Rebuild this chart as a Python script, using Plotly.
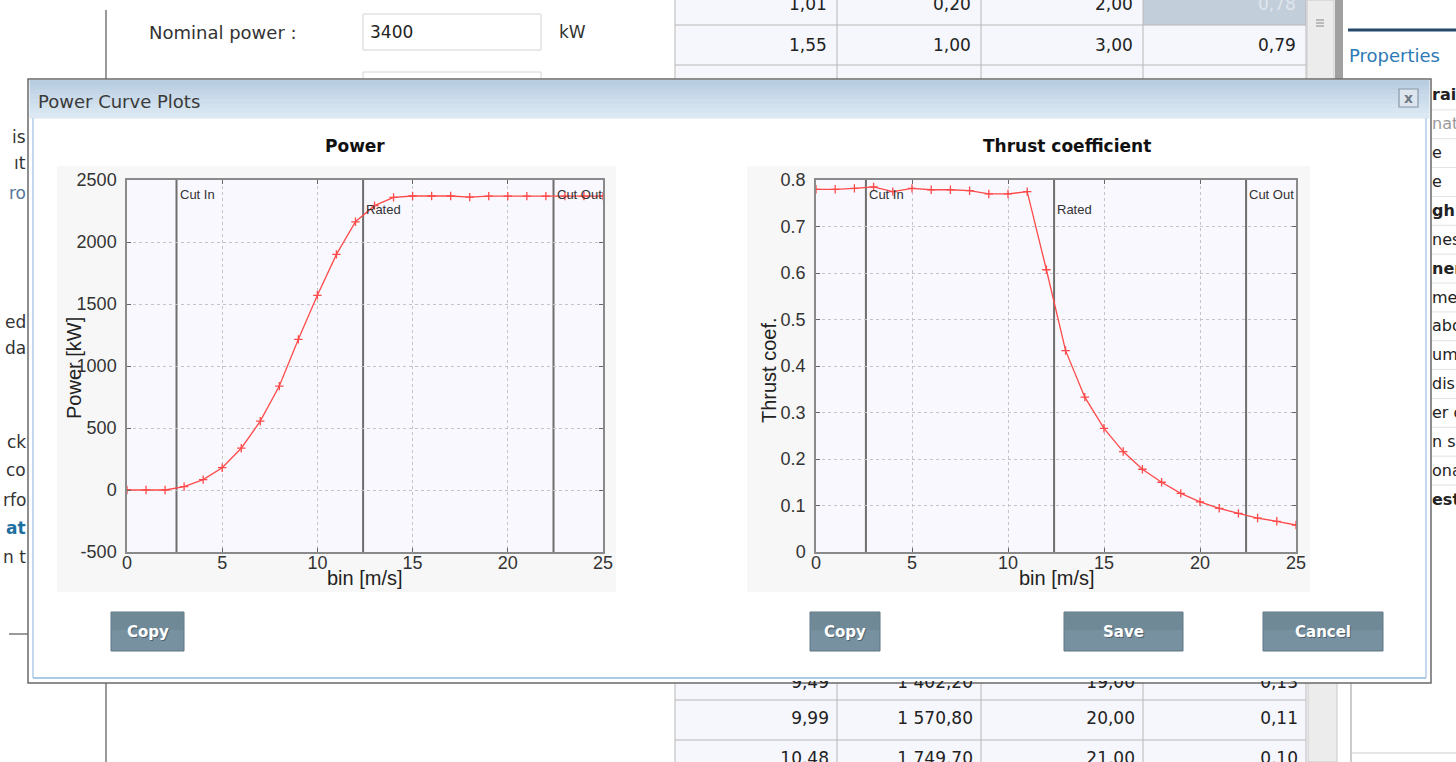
import plotly.graph_objects as go

W, H = 1456, 762

# ---------------- chart data ----------------
wind_speed = list(range(26))
power_kw = [0, 0, 0, 27, 84, 180, 337, 555, 838, 1215, 1570, 1900, 2163, 2293,
            2360, 2371, 2371, 2371, 2362, 2370, 2370, 2370, 2370, 2370, 2370, 2370]
thrust_coef = [0.780, 0.780, 0.782, 0.785, 0.775, 0.782, 0.779, 0.779, 0.777,
               0.770, 0.770, 0.775, 0.607, 0.433, 0.333, 0.266, 0.216, 0.178,
               0.150, 0.126, 0.108, 0.094, 0.083, 0.073, 0.066, 0.058]
limit_names = ["Cut In", "Rated", "Cut Out"]
limit_speeds = [2.6, 12.4, 22.4]

speed_ticks = [0, 5, 10, 15, 20, 25]
power_ticks = [-500, 0, 500, 1000, 1500, 2000, 2500]
power_tick_labels = ["-500", "0", "500", "1000", "1500", "2000", "2500"]
thrust_ticks = [0, 0.1, 0.2, 0.3, 0.4, 0.5, 0.6, 0.7, 0.8]
thrust_tick_labels = ["0", "0.1", "0.2", "0.3", "0.4", "0.5", "0.6", "0.7", "0.8"]

# ---------------- background UI texts ----------------
table_top_row = ["1,01", "0,20", "2,00", "0,78"]
table_second_row = ["1,55", "1,00", "3,00", "0,79"]
table_bottom_rows = [["9,49", "1 402,20", "19,00", "0,13"],
                     ["9,99", "1 570,80", "20,00", "0,11"],
                     ["10,48", "1 749,70", "21,00", "0,10"]]
left_fragments = ["is", "ıt", "ro", "ed", "da", "ck", "co", "rfo", "at", "n t"]
right_fragments = ["rai", "nat", "e", "e", "gh", "nes", "ner", "me", "abo",
                   "um", "dis", "er o", "n sm", "ona", "est"]
button_labels = ["Copy", "Copy", "Save", "Cancel"]


def px(x):
    return x / W


def py(y):
    return 1 - y / H


UI_FONT = "DejaVu Sans"
CH_FONT = "Liberation Sans"
RED = "#ff4a4a"

shapes = []
annotations = []


def rect(x0, y0, x1, y1, fill=None, line=None, lw=1):
    shapes.append(dict(type="rect", xref="paper", yref="paper",
                       x0=px(x0), x1=px(x1), y0=py(y1), y1=py(y0),
                       fillcolor=fill if fill else "rgba(0,0,0,0)",
                       line=dict(color=line if line else "rgba(0,0,0,0)",
                                 width=lw if line else 0),
                       layer="below"))


def hline(x0, x1, y, color, lw=1):
    shapes.append(dict(type="line", xref="paper", yref="paper",
                       x0=px(x0), x1=px(x1), y0=py(y), y1=py(y),
                       line=dict(color=color, width=lw), layer="below"))


def vline(x, y0, y1, color, lw=1):
    shapes.append(dict(type="line", xref="paper", yref="paper",
                       x0=px(x), x1=px(x), y0=py(y0), y1=py(y1),
                       line=dict(color=color, width=lw), layer="below"))


def text(x, y, s, size=17, color="#333333", xanchor="left", family=UI_FONT,
         bold=False, angle=0):
    annotations.append(dict(xref="paper", yref="paper", x=px(x), y=py(y),
                            text=f"<b>{s}</b>" if bold else s, showarrow=False,
                            xanchor=xanchor, yanchor="middle", textangle=angle,
                            font=dict(family=family, size=size, color=color)))


# ---------------- background application ----------------
vline(106, 10, 762, "#9a9a9a", 2)
text(147, 32, "Nominal power :", 18, "#333")
rect(363, 14, 541, 50, "#ffffff", "#d4d4d4")
text(368, 32, "3400", 17, "#222")
text(557, 32, "kW", 17, "#333")
rect(363, 72, 541, 100, "#ffffff", "#d4d4d4")

# top table
rect(675, 0, 1306, 80, "#f6f7fc")
rect(1143, 0, 1306, 25, "#c3cedb")
for xv in [675, 837, 981, 1143, 1306]:
    vline(xv, 0, 80, "#b8b8b8")
for yv in [25, 65]:
    hline(675, 1306, yv, "#b8b8b8")
col_right = [829, 973, 1135, 1298]
for i, v in enumerate(table_top_row):
    text(col_right[i], 4, v, 17, "#dfe5ec" if i == 3 else "#222", xanchor="right")
for i, v in enumerate(table_second_row):
    text(col_right[i], 45, v, 17, "#222", xanchor="right")
rect(1307, 0, 1334, 80, "#ececec", "#c8c8c8")
for k in range(3):
    hline(1316, 1324, 20 + 3 * k, "#888")
rect(1335, 0, 1343, 80, "#a0a0a0")
hline(1348, 1456, 30, "#24496b", 3)
text(1347, 55, "Properties", 18, "#2d7ab6")

# bottom table
rect(675, 680, 1306, 762, "#f6f7fc")
for xv in [675, 837, 981, 1143, 1306]:
    vline(xv, 680, 762, "#b8b8b8")
for yv in [700, 740]:
    hline(675, 1306, yv, "#b8b8b8")
rect(1308, 680, 1337, 762, "#ececec", "#c8c8c8")
vline(1351, 680, 762, "#9a9a9a")
hline(1351, 1456, 753, "#cccccc")
hline(9, 30, 634, "#9a9a9a", 2)

# left fragments
left_y = [137, 163, 193, 322, 348, 442, 470, 500, 528, 557]
for s, yv in zip(left_fragments, left_y):
    col = "#1f6fa0" if s == "at" else ("#54779a" if s == "ro" else "#333")
    text(28, yv, s, 17, col, xanchor="right", bold=(s == "at"))

# right fragments
for i, s in enumerate(right_fragments):
    yv = 95 + i * 28.86
    col = "#9a9a9a" if s == "nat" else "#222"
    text(1430, yv, s, 16, col, bold=s in ("rai", "gh", "ner", "est"))
    if i > 0:
        hline(1431, 1456, yv - 14, "#e2e2e2")

# ---------------- dialog ----------------
rect(28, 79, 1431, 683, "#ffffff", "#6a6a6a", 1.5)
bar_cols = ["#b9cde0", "#bed1e3", "#c3d5e6", "#c8d9e9", "#cdddeb", "#d2e1ee",
            "#d7e5f1", "#dbe8f3"]
step = (118 - 80) / len(bar_cols)
for k, c in enumerate(bar_cols):
    rect(29.5, 80 + k * step, 1429.5, 80 + (k + 1) * step + 0.6, c)
vline(33, 118, 678, "#c4d9ee", 2)
vline(1426, 118, 678, "#c4d9ee", 2)
hline(33, 1426, 678, "#a8cbe8", 2)
text(36, 101, "Power Curve Plots", 18, "#3a3a3a")
rect(1399, 89, 1418, 107, "#dde5ee", "#8797a8", 1.2)
text(1408.5, 98, "x", 14, "#707a86", xanchor="center", bold=True)

# chart image backgrounds
rect(57, 166, 616, 592, "#f7f7f7")
rect(747, 166, 1310, 592, "#f7f7f7")

# buttons
button_boxes = [(111, 184), (810, 880), (1064, 1183), (1263, 1383)]
for (x0, x1), lab in zip(button_boxes, button_labels):
    rect(x0, 612, x1, 651, "#7891a0", "#5f7683", 1)
    rect(x0 + 1, 613, x1 - 1, 630, "#6f8996")
    text((x0 + x1) / 2 + 1, 632.5, lab, 15, "rgba(40,50,60,0.5)", xanchor="center", bold=True)
    text((x0 + x1) / 2, 631.5, lab, 15, "#ffffff", xanchor="center", bold=True)

# plot-area backgrounds (drawn as shapes so they sit above the dialog body)
for ax, yax in [("x", "y"), ("x2", "y2")]:
    shapes.append(dict(type="rect", xref=f"{ax} domain", yref=f"{yax} domain",
                       x0=0, x1=1, y0=0, y1=1, fillcolor="#f8f8fe",
                       line=dict(width=0), layer="below"))

# vertical limit lines + labels
label_dy = {"Cut In": 0.96, "Rated": 0.92, "Cut Out": 0.96}
for ax, yax in [("x", "y"), ("x2", "y2")]:
    for name, sp in zip(limit_names, limit_speeds):
        shapes.append(dict(type="line", xref=ax, yref=f"{yax} domain",
                           x0=sp, x1=sp, y0=0, y1=1,
                           line=dict(color="#6e6e6e", width=2), layer="below"))
        annotations.append(dict(xref=ax, yref=f"{yax} domain", x=sp,
                                y=label_dy[name], text=name, showarrow=False,
                                xanchor="left", yanchor="middle", xshift=1,
                                font=dict(family=CH_FONT, size=13, color="#333")))

# ---------------- charts ----------------
fig = go.Figure()

line_kw = dict(mode="lines+markers", line=dict(color=RED, width=1.3),
               marker=dict(symbol="cross-thin", size=6,
                           line=dict(width=1.3, color=RED)),
               showlegend=False, hoverinfo="x+y")
fig.add_trace(go.Scatter(x=wind_speed, y=power_kw, xaxis="x", yaxis="y", **line_kw))
fig.add_trace(go.Scatter(x=wind_speed, y=thrust_coef, xaxis="x2", yaxis="y2", **line_kw))

# partially hidden table rows below the dialog (clipped by an invisible strip subplot)
bx, by, bt = [], [], []
for r, row in enumerate(table_bottom_rows):
    for i, v in enumerate(row):
        bx.append(col_right[i])
        by.append([684, 720, 760][r])
        bt.append(v)
fig.add_trace(go.Scatter(x=bx, y=by, text=bt, mode="text", textposition="middle left",
                         textfont=dict(family=UI_FONT, size=17, color="#222"),
                         xaxis="x3", yaxis="y3", cliponaxis=True, showlegend=False,
                         hoverinfo="skip"))

common_x = dict(range=[0, 25], tickvals=speed_ticks, showgrid=True,
                gridcolor="#c4c4c4", griddash="dot", gridwidth=1,
                showline=True, mirror="ticks", linecolor="#8a8a8a", linewidth=1.5,
                ticks="inside", ticklen=4, tickcolor="#666", zeroline=False,
                tickfont=dict(family=CH_FONT, size=18, color="#333"),
                ticklabelstandoff=-6)
common_y = dict(showgrid=True, gridcolor="#c4c4c4", griddash="dot", gridwidth=1,
                showline=True, mirror="ticks", linecolor="#8a8a8a", linewidth=1.5,
                ticks="inside", ticklen=4, tickcolor="#666", zeroline=False,
                tickfont=dict(family=CH_FONT, size=18, color="#333"),
                ticklabelstandoff=5)

fig.update_layout(
    xaxis=dict(domain=[px(127), px(603)], anchor="y", **common_x),
    yaxis=dict(domain=[py(552), py(180)], anchor="x", range=[-500, 2500],
               tickvals=power_ticks, ticktext=power_tick_labels, **common_y),
    xaxis2=dict(domain=[px(816), px(1296)], anchor="y2", **common_x),
    yaxis2=dict(domain=[py(552), py(180)], anchor="x2", range=[0, 0.8],
                tickvals=thrust_ticks, ticktext=thrust_tick_labels, **common_y),
    xaxis3=dict(domain=[0, 1], range=[0, W], visible=False, anchor="y3",
                fixedrange=True),
    yaxis3=dict(domain=[0, py(681)], range=[H, 681], visible=False, anchor="x3",
                fixedrange=True),
)

# titles and axis titles
text(355, 146, "Power", 17, "#111", xanchor="center", bold=True)
text(1067, 146, "Thrust coefficient", 17, "#111", xanchor="center", bold=True)
text(365, 578, "bin [m/s]", 20, "#222", xanchor="center", family=CH_FONT)
text(1057, 578, "bin [m/s]", 20, "#222", xanchor="center", family=CH_FONT)
text(74, 368, "Power [kW]", 20, "#222", xanchor="center", family=CH_FONT, angle=-90)
text(769, 370, "Thrust coef.", 20, "#222", xanchor="center", family=CH_FONT, angle=-90)

fig.update_layout(
    width=W, height=H,
    margin=dict(l=0, r=0, t=0, b=0, pad=0, autoexpand=False), autosize=False,
    paper_bgcolor="#ffffff", plot_bgcolor="rgba(0,0,0,0)",
    shapes=shapes, annotations=annotations, showlegend=False,
    font=dict(family=CH_FONT),
)

fig.write_html(
    "out.html",
    config={"responsive": False, "displayModeBar": False},
    post_script=(
        "var d=document.getElementById('{plot_id}');"
        "document.documentElement.style.overflow='hidden';"
        "document.body.style.overflow='hidden';"
        "document.body.style.margin='0';"
        "d.style.position='fixed';d.style.left='0px';d.style.top='0px';"
    ),
)
